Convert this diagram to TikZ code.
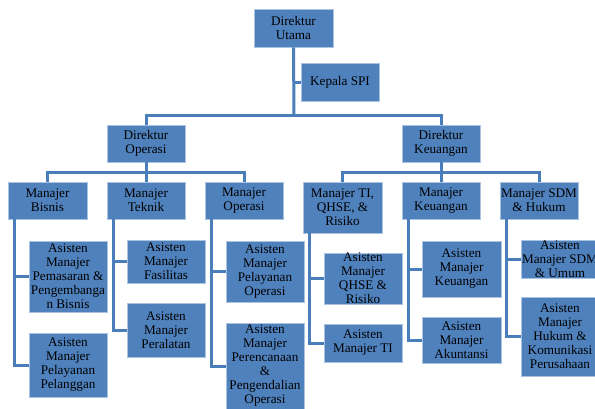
\documentclass[tikz,border=0pt]{standalone}
\usepackage{fontspec}
\setmainfont{Liberation Serif}
\begin{document}
\begin{tikzpicture}[x=1pt,y=-1pt,
  box/.style={draw=boxedge, line width=0.8pt, fill=boxfill, text=black, align=center,
    inner sep=0pt, font=\fontsize{13.2}{14}\selectfont},
  conn/.style={draw=linecol, line width=3pt}]
\definecolor{boxfill}{RGB}{79,129,189}
\definecolor{boxedge}{RGB}{170,195,225}
\definecolor{linecol}{RGB}{74,126,187}
\useasboundingbox (0,0) rectangle (595,408);
\clip (0,0) rectangle (595,408);
% top level
\node[box, minimum width=79, minimum height=38] (du) at (293.5,28) {Direktur\\Utama};
\node[box, minimum width=78, minimum height=38] (spi) at (340,82) {Kepala SPI};
\node[box, minimum width=78, minimum height=37] (dop) at (146,143.5) {Direktur\\Operasi};
\node[box, minimum width=78, minimum height=37] (dk) at (441,143.5) {Direktur\\Keuangan};
% managers
\node[box, minimum width=79, minimum height=37] (mb) at (47.5,200.5) {Manajer\\Bisnis};
\node[box, minimum width=78, minimum height=37] (mt) at (146,200.5) {Manajer\\Teknik};
\node[box, minimum width=78, minimum height=37] (mo) at (244,200.5) {Manajer\\Operasi};
\node[box, minimum width=79, minimum height=51] (mti) at (342.5,207.5) {Manajer TI,\\QHSE, \&\\Risiko};
\node[box, minimum width=78, minimum height=37] (mk) at (441,200.5) {Manajer\\Keuangan};
\node[box, minimum width=78, minimum height=37] (msdm) at (539,200.5) {Manajer SDM\\\& Hukum};
% assistants
\node[box, minimum width=78, minimum height=71] (a1) at (68,276.5) {Asisten\\Manajer\\Pemasaran \&\\Pengembanga\\n Bisnis};
\node[box, minimum width=78, minimum height=64] (a2) at (68,365) {Asisten\\Manajer\\Pelayanan\\Pelanggan};
\node[box, minimum width=78, minimum height=43] (a3) at (166,261.5) {Asisten\\Manajer\\Fasilitas};
\node[box, minimum width=78, minimum height=54] (a4) at (166,330) {Asisten\\Manajer\\Peralatan};
\node[box, minimum width=78, minimum height=61] (a5) at (265,271.5) {Asisten\\Manajer\\Pelayanan\\Operasi};
\node[box, minimum width=78, minimum height=86] (a6) at (265,366) {Asisten\\Manajer\\Perencanaan\\\&\\Pengendalian\\Operasi};
\node[box, minimum width=78, minimum height=51] (a7) at (363,278.5) {Asisten\\Manajer\\QHSE \&\\Risiko};
\node[box, minimum width=78, minimum height=38] (a8) at (363,343) {Asisten\\Manajer TI};
\node[box, minimum width=79, minimum height=56] (a9) at (461.5,269) {Asisten\\Manajer\\Keuangan};
\node[box, minimum width=79, minimum height=46] (a10) at (461.5,340) {Asisten\\Manajer\\Akuntansi};
\node[box, minimum width=78, minimum height=38] (a11) at (560,259) {Asisten\\Manajer SDM\\\& Umum};
\node[box, minimum width=78, minimum height=79] (a12) at (560,336.5) {Asisten\\Manajer\\Hukum \&\\Komunikasi\\Perusahaan};
% connectors top
\coordinate (b1) at (294,115);
\coordinate (b2) at (146,172);
\coordinate (b3) at (441,172);
\draw[conn] (du.south) -- (b1);
\draw[conn] (du.south |- spi.west) -- (spi.west);
\draw[conn] (dop.north) |- (b1) -| (dk.north);
\draw[conn] (dop.south) -- (b2);
\draw[conn] (mb.north) |- (b2) -| (mo.north);
\draw[conn] (mt.north) -- (b2);
\draw[conn] (dk.south) -- (b3);
\draw[conn] (mti.north) |- (b3) -| (msdm.north);
\draw[conn] (mk.north) -- (b3);
% manager to assistant
\coordinate (vb) at ([xshift=7]mb.south west);
\coordinate (vt) at ([xshift=7]mt.south west);
\coordinate (vo) at ([xshift=7]mo.south west);
\coordinate (vti) at ([xshift=7]mti.south west);
\coordinate (vk) at ([xshift=7]mk.south west);
\coordinate (vs) at ([xshift=7]msdm.south west);
\draw[conn] (vb) |- (a2.west); \draw[conn] (vb |- a1.west) -- (a1.west);
\draw[conn] (vt) |- (a4.west); \draw[conn] (vt |- a3.west) -- (a3.west);
\draw[conn] (vo) |- (a6.west); \draw[conn] (vo |- a5.west) -- (a5.west);
\draw[conn] (vti) |- (a8.west); \draw[conn] (vti |- a7.west) -- (a7.west);
\draw[conn] (vk) |- (a10.west); \draw[conn] (vk |- a9.west) -- (a9.west);
\draw[conn] (vs) |- (a12.west); \draw[conn] (vs |- a11.west) -- (a11.west);
\end{tikzpicture}
\end{document}
